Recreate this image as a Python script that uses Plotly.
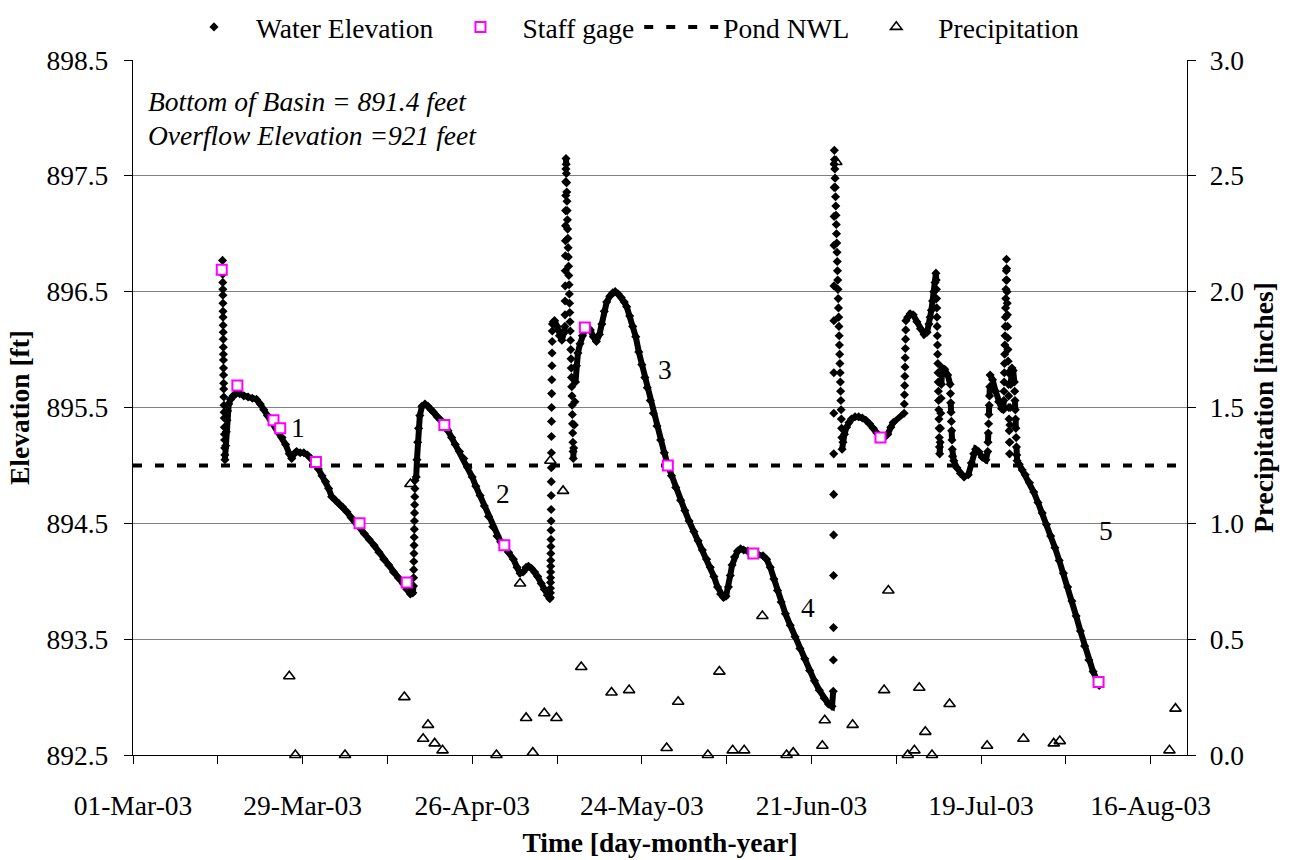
import pandas as pd
import plotly.graph_objects as go

START = pd.Timestamp("2003-03-01")

# Logger record: days after 01-Mar-03 and water surface elevation (ft)
wl_day = [
    14.78, 14.80, 14.81, 14.82, 14.83, 14.84, 14.85, 14.86, 14.87, 14.88, 14.89, 14.90, 14.91, 14.92,
    14.93, 14.94, 14.95, 14.97, 14.98, 15.00, 15.02, 15.04, 15.06, 15.08, 15.10, 15.12, 15.14, 15.16, 15.18,
    15.30, 15.40, 15.50, 15.62, 15.80, 16.10, 16.50, 17.00, 17.60, 18.30, 19.00, 19.70, 20.40, 21.00,
    21.60, 22.20, 22.80, 23.40, 24.00, 24.60, 25.20, 25.80, 26.20, 26.60, 27.00, 27.60, 28.20, 28.80,
    29.40, 30.00, 30.60, 31.20, 31.80, 32.30, 32.80, 33.40, 34.00, 34.60, 35.30, 36.00, 36.70, 37.40,
    38.20, 39.00, 39.80, 40.60, 41.40, 42.20, 43.00, 43.80, 44.60, 45.20, 45.80, 46.20,
    46.30, 46.32, 46.34, 46.36, 46.38, 46.40, 46.42, 46.44, 46.46, 46.48, 46.50, 46.52, 46.54, 46.56,
    46.75, 46.88, 47.00, 47.15, 47.35, 47.70, 48.20, 48.70, 49.20, 49.60, 50.20, 50.80, 51.40, 52.00,
    52.60, 53.20, 53.90, 54.60, 55.30, 56.00, 56.60, 57.30, 58.00, 58.70, 59.40, 60.10, 60.70, 61.30,
    62.00, 62.80, 63.40, 63.90, 64.40, 64.90, 65.30, 65.80, 66.30, 66.80, 67.40, 67.90, 68.40, 68.80,
    68.90, 68.91, 68.92, 68.93, 68.94, 68.95, 68.96, 68.97, 68.98, 68.99, 69.00, 69.01, 69.02, 69.03,
    69.04, 69.05, 69.06, 69.07, 69.08, 69.09, 69.10, 69.12, 69.14, 69.16, 69.18, 69.20, 69.22, 69.25,
    69.40, 69.60, 70.00, 70.40, 70.80, 71.10, 71.30,
    71.32, 71.33, 71.35, 71.36, 71.38, 71.39, 71.41, 71.42, 71.44, 71.45, 71.47, 71.48,
    71.52, 71.55, 71.58, 71.61, 71.64, 71.67, 71.71, 71.75, 71.79, 71.83, 71.87, 71.91, 71.95, 71.99,
    72.03, 72.07, 72.11, 72.15, 72.19, 72.23, 72.27, 72.31, 72.35, 72.39, 72.43, 72.47, 72.50, 72.53,
    72.56, 72.59, 72.62, 72.65, 72.68,
    72.75, 72.85, 72.95, 73.05, 73.20, 73.45, 73.80, 74.20, 74.60, 75.00, 75.50, 76.00, 76.50, 77.00,
    77.40, 77.80, 78.20, 78.70, 79.20, 79.60, 80.10, 80.60, 81.10, 81.50, 82.00, 82.50, 83.00, 83.50,
    84.00, 84.50, 84.90, 85.40, 85.90, 86.50, 87.10, 87.70, 88.30, 88.90, 89.60, 90.40, 91.10, 91.80,
    92.60, 93.30, 94.00, 94.70, 95.30, 95.90, 96.50, 97.00, 97.50, 97.90, 98.30, 98.60, 98.90, 99.30,
    99.80, 100.30, 100.80, 101.50, 102.40, 103.20, 104.00, 104.60, 105.20, 105.80, 106.40, 107.00,
    107.70, 108.50, 109.30, 110.10, 110.90, 111.70, 112.50, 113.30, 114.10, 114.80, 115.40,
    115.60, 115.62, 115.64, 115.65, 115.66, 115.67, 115.68, 115.69, 115.70, 115.71, 115.72, 115.73,
    115.74, 115.75, 115.76, 115.78,
    115.82, 115.86, 115.90, 115.94, 115.98, 116.02, 116.06, 116.10, 116.14, 116.18, 116.22, 116.26,
    116.30, 116.34, 116.38, 116.42, 116.46, 116.50, 116.54, 116.58, 116.62, 116.66, 116.70, 116.74,
    116.78, 116.82, 116.86, 116.90, 116.94, 116.98, 117.02, 117.06,
    117.20, 117.45, 117.80, 118.20, 118.60, 119.20, 119.80, 120.40, 121.00, 121.60, 122.20, 122.80,
    123.40, 124.00, 124.60, 125.10, 125.50,
    127.30, 127.33, 127.36, 127.39, 127.42, 127.45, 127.48, 127.51, 127.54, 127.57, 127.60,
    127.90, 128.30, 128.80, 129.40, 130.00, 130.60, 131.10,
    131.40, 131.60, 131.80, 132.00, 132.20, 132.40, 132.55,
    132.60, 132.63, 132.66, 132.69, 132.72, 132.75, 132.78, 132.81, 132.84, 132.87, 132.90, 132.93,
    132.96, 132.99, 133.02, 133.05, 133.08, 133.11, 133.14, 133.17,
    133.25, 133.30, 133.35, 133.40, 133.45, 133.50, 133.60, 134.00, 134.50, 134.90,
    134.95, 135.00, 135.05, 135.10, 135.15, 135.20, 135.25, 135.30,
    135.50, 136.00, 136.60, 137.20, 137.90, 138.40, 138.80, 139.10, 139.60, 140.20, 140.80,
    141.10, 141.15, 141.20, 141.25, 141.30, 141.35, 141.40, 141.45, 141.50,
    141.90, 142.40, 142.90, 143.40, 143.70,
    143.75, 143.78, 143.81, 143.84, 143.87, 143.90, 143.93, 143.96, 143.99, 144.02, 144.05, 144.08,
    144.11, 144.14, 144.17, 144.20, 144.23, 144.26, 144.29, 144.32, 144.35, 144.38, 144.41, 144.44,
    144.47, 144.50, 144.53, 144.56, 144.59, 144.62, 144.65, 144.68, 144.71, 144.74, 144.77, 144.80,
    144.90, 145.10, 145.30, 145.50,
    145.55, 145.60, 145.65, 145.70, 145.75, 145.80, 145.85, 145.90, 145.95,
    146.30, 146.80, 147.30, 148.00, 148.70, 149.40, 150.10, 150.80, 151.50, 152.20, 152.90, 153.60,
    154.30, 155.00, 155.70, 156.40, 157.10, 157.80, 158.50, 159.20, 159.50,
]
wl_ft = [
    896.77, 896.71, 896.65, 896.58, 896.52, 896.47, 896.40, 896.33, 896.28, 896.21, 896.15, 896.09, 896.02, 895.96,
    895.91, 895.84, 895.78, 895.71, 895.66, 895.59, 895.52, 895.46, 895.41, 895.33, 895.27, 895.22, 895.15, 895.09, 895.05,
    895.17, 895.29, 895.39, 895.47, 895.53, 895.57, 895.60, 895.62, 895.62, 895.60, 895.59, 895.58, 895.57, 895.53,
    895.48, 895.43, 895.39, 895.35, 895.30, 895.24, 895.18, 895.10, 895.06, 895.10, 895.12, 895.11, 895.11, 895.09,
    895.06, 895.02, 894.97, 894.91, 894.86, 894.80, 894.73, 894.70, 894.67, 894.64, 894.60, 894.55, 894.51, 894.47,
    894.41, 894.36, 894.31, 894.25, 894.19, 894.14, 894.08, 894.03, 893.98, 893.93, 893.89, 893.90,
    893.96, 894.03, 894.10, 894.17, 894.24, 894.31, 894.38, 894.45, 894.52, 894.59, 894.66, 894.73, 894.80, 894.87,
    894.90, 895.05, 895.20, 895.32, 895.43, 895.51, 895.53, 895.51, 895.48, 895.46, 895.42, 895.39, 895.36, 895.30,
    895.24, 895.18, 895.12, 895.06, 894.98, 894.90, 894.82, 894.74, 894.65, 894.56, 894.47, 894.39, 894.34, 894.30,
    894.25, 894.19, 894.12, 894.07, 894.08, 894.12, 894.13, 894.11, 894.08, 894.04, 893.98, 893.93, 893.88, 893.85,
    893.86, 893.90, 893.94, 893.99, 894.03, 894.08, 894.13, 894.18, 894.24, 894.30, 894.36, 894.44, 894.52, 894.62,
    894.74, 894.86, 894.98, 895.11, 895.25, 895.38, 895.50, 895.62, 895.74, 895.86, 895.97, 896.07, 896.16, 896.22,
    896.24, 896.25, 896.20, 896.12, 896.08, 896.14, 896.20,
    896.30, 896.42, 896.55, 896.68, 896.81, 896.94, 897.07, 897.20, 897.33, 897.45, 897.56, 897.65,
    897.60, 897.52, 897.44, 897.36, 897.28, 897.20, 897.12, 897.04, 896.96, 896.88, 896.80, 896.72, 896.64, 896.56,
    896.48, 896.40, 896.32, 896.24, 896.16, 896.08, 896.00, 895.92, 895.84, 895.76, 895.68, 895.60, 895.52, 895.44,
    895.36, 895.28, 895.20, 895.12, 895.06,
    895.15, 895.35, 895.55, 895.72, 895.86, 895.97, 896.05, 896.12, 896.17, 896.19, 896.17, 896.11, 896.07, 896.13,
    896.22, 896.33, 896.41, 896.46, 896.49, 896.50, 896.48, 896.45, 896.41, 896.37, 896.29, 896.20, 896.11, 895.98,
    895.87, 895.76, 895.67, 895.56, 895.45, 895.34, 895.22, 895.11, 895.00, 894.91, 894.81, 894.70, 894.61, 894.52,
    894.43, 894.35, 894.27, 894.19, 894.12, 894.04, 893.95, 893.89, 893.86, 893.87, 893.95, 894.05, 894.14, 894.21,
    894.26, 894.28, 894.27, 894.26, 894.24, 894.23, 894.22, 894.19, 894.12, 894.02, 893.92, 893.82,
    893.72, 893.62, 893.52, 893.42, 893.33, 893.23, 893.14, 893.06, 892.99, 892.94, 892.92,
    893.05, 893.32, 893.60, 894.05, 894.40, 894.75, 895.10, 895.45, 895.80, 896.25, 896.55, 896.90,
    897.15, 897.40, 897.60, 897.72,
    897.64, 897.56, 897.48, 897.40, 897.32, 897.24, 897.16, 897.08, 897.00, 896.92, 896.84, 896.76,
    896.68, 896.60, 896.52, 896.44, 896.36, 896.28, 896.20, 896.12, 896.04, 895.96, 895.88, 895.80,
    895.72, 895.64, 895.56, 895.48, 895.40, 895.32, 895.24, 895.14,
    895.20, 895.27, 895.33, 895.37, 895.40, 895.42, 895.42, 895.41, 895.39, 895.36, 895.32, 895.28,
    895.25, 895.24, 895.27, 895.33, 895.37,
    895.45, 895.53, 895.61, 895.69, 895.77, 895.85, 895.93, 896.01, 896.09, 896.17, 896.25,
    896.28, 896.31, 896.30, 896.24, 896.18, 896.13, 896.15,
    896.22, 896.28, 896.34, 896.42, 896.50, 896.58, 896.66,
    896.60, 896.52, 896.44, 896.36, 896.28, 896.20, 896.12, 896.04, 895.96, 895.88, 895.80, 895.72,
    895.64, 895.56, 895.48, 895.40, 895.32, 895.24, 895.16, 895.10,
    895.20, 895.32, 895.45, 895.58, 895.70, 895.78, 895.84, 895.83, 895.78, 895.70,
    895.62, 895.54, 895.46, 895.38, 895.30, 895.22, 895.14, 895.08,
    895.04, 894.98, 894.93, 894.90, 894.92, 895.02, 895.10, 895.14, 895.12, 895.07, 895.05,
    895.12, 895.20, 895.28, 895.36, 895.44, 895.52, 895.60, 895.68, 895.78,
    895.74, 895.64, 895.55, 895.49, 895.48,
    895.56, 895.64, 895.72, 895.80, 895.88, 895.96, 896.04, 896.12, 896.20, 896.28, 896.36, 896.44,
    896.52, 896.60, 896.68, 896.78, 896.70, 896.60, 896.50, 896.40, 896.30, 896.20, 896.10, 896.00,
    895.90, 895.80, 895.70, 895.60, 895.50, 895.40, 895.30, 895.20, 895.10, 895.20, 895.35, 895.50,
    895.70, 895.84, 895.82, 895.72,
    895.64, 895.56, 895.48, 895.40, 895.32, 895.24, 895.16, 895.09, 895.04,
    895.01, 894.96, 894.92, 894.85, 894.77, 894.68, 894.59, 894.49, 894.39, 894.29, 894.18, 894.07,
    893.95, 893.83, 893.70, 893.57, 893.44, 893.32, 893.22, 893.14, 893.10,
]

# Staff gage readings
staff_day = [14.65, 17.23, 23.2, 24.3, 30.2, 37.4, 45.2, 51.4, 61.3, 74.6, 88.3, 102.4, 123.4, 159.4]
staff_ft = [896.69, 895.69, 895.39, 895.32, 895.03, 894.50, 893.99, 895.35, 894.31, 896.19, 895.00,
            894.24, 895.24, 893.13]

# Daily precipitation (inches)
precip_day = [25.8, 26.8, 35.0, 44.8, 45.8, 47.9, 48.7, 49.8, 51.1, 60.0, 63.9, 64.9, 66.0, 67.9,
              68.9, 69.9, 71.0, 74.0, 79.0, 81.9, 88.1, 90.0, 94.9, 96.8, 99.0, 100.9, 103.9, 107.9,
              109.0, 113.8, 114.2, 116.1, 118.8, 124.0, 124.7, 127.9, 129.0, 129.8, 130.8, 131.9,
              134.8, 141.0, 147.0, 152.0, 153.0, 171.1, 172.1]
precip_in = [0.34, 0.00, 0.00, 0.25, 1.17, 0.07, 0.13, 0.05, 0.02, 0.00, 0.74, 0.16, 0.01, 0.18,
             1.27, 0.16, 1.14, 0.38, 0.27, 0.28, 0.03, 0.23, 0.00, 0.36, 0.02, 0.02, 0.60, 0.00,
             0.01, 0.04, 0.15, 2.56, 0.13, 0.28, 0.71, 0.00, 0.02, 0.29, 0.10, 0.00,
             0.22, 0.04, 0.07, 0.05, 0.06, 0.02, 0.20]

POND_NWL = 895.0
X_START, X_END = "2003-03-01", "2003-08-22"

SEGMENT_LABELS = [("1", 27.3, 895.33), ("2", 61.1, 894.76), ("3", 87.8, 895.83),
                  ("4", 111.5, 893.77), ("5", 160.6, 894.44)]

FONT = "Liberation Serif, Times New Roman, serif"
FS = 27.5


def to_date(days):
    return [START + pd.Timedelta(days=d) for d in days]


wl_t = to_date(wl_day)

# Join consecutive readings with a line only where the stage changes gradually;
# rapid storm rises and falls stay as separate hourly markers.
line_x, line_y = [], []
for i in range(len(wl_day)):
    if i > 0:
        dt = wl_day[i] - wl_day[i - 1]
        rate = abs(wl_ft[i] - wl_ft[i - 1]) / dt if dt > 0 else 99
        if rate > 1.6 or dt > 2.5:
            line_x.append(None)
            line_y.append(None)
    line_x.append(wl_t[i])
    line_y.append(wl_ft[i])

fig = go.Figure()

fig.add_trace(go.Scatter(
    x=[X_START, X_END], y=[POND_NWL, POND_NWL], mode="lines", name="Pond NWL",
    line=dict(color="black", width=4, dash="9px,13px"), legendrank=3,
))
fig.add_trace(go.Scatter(
    x=line_x, y=line_y, mode="lines", line=dict(color="black", width=6),
    showlegend=False, hoverinfo="skip", legendgroup="wl",
))
fig.add_trace(go.Scatter(
    x=wl_t, y=wl_ft, mode="markers", name="Water Elevation", legendgroup="wl",
    marker=dict(symbol="diamond", size=7, color="black"), legendrank=1,
))
fig.add_trace(go.Scatter(
    x=to_date(staff_day), y=staff_ft, mode="markers", name="Staff gage",
    marker=dict(symbol="square", size=10, color="white", line=dict(color="#FF00FF", width=2)),
    legendrank=2,
))
fig.add_trace(go.Scatter(
    x=to_date(precip_day), y=precip_in, mode="markers", name="Precipitation", yaxis="y2",
    marker=dict(symbol="triangle-up-open", size=10, color="black", line=dict(width=1.6)),
    legendrank=4, cliponaxis=False,
))

tick_dates = pd.date_range(X_START, "2003-08-16", freq="14D")
tick_text = [d.strftime("%d-%b-%y") if i % 2 == 0 else "" for i, d in enumerate(tick_dates)]

for text, d, y in SEGMENT_LABELS:
    fig.add_annotation(x=START + pd.Timedelta(days=d), y=y, text=text, showarrow=False,
                       font=dict(family=FONT, size=FS, color="black"))

fig.add_annotation(xref="paper", yref="paper", x=0.012, y=0.94, xanchor="left", yanchor="middle",
                   text="<i>Bottom of Basin = 891.4 feet</i>", showarrow=False,
                   font=dict(family=FONT, size=FS, color="black"))
fig.add_annotation(xref="paper", yref="paper", x=0.012, y=0.892, xanchor="left", yanchor="middle",
                   text="<i>Overflow Elevation =921 feet</i>", showarrow=False,
                   font=dict(family=FONT, size=FS, color="black"))

axis_common = dict(showline=True, linecolor="black", linewidth=1.3, ticks="outside", ticklen=8,
                   tickcolor="black", tickwidth=1.3, zeroline=False,
                   tickfont=dict(family=FONT, size=FS, color="black"))

fig.update_layout(
    width=1294, height=860,
    margin=dict(l=133, r=107, t=60, b=105, autoexpand=False),
    paper_bgcolor="white", plot_bgcolor="white",
    font=dict(family=FONT, size=FS, color="black"),
    showlegend=True,
    legend=dict(orientation="h", x=0.037, xref="paper", y=1 - 27 / 860, yref="container",
                xanchor="left", yanchor="middle",
                font=dict(family=FONT, size=FS, color="black"), traceorder="normal",
                itemwidth=74, bgcolor="rgba(0,0,0,0)"),
    xaxis=dict(type="date", range=[X_START, X_END], tickvals=tick_dates, ticktext=tick_text,
               showgrid=False, mirror=False, ticklabelstandoff=18,
               title=dict(text="<b>Time [day-month-year]</b>", font=dict(family=FONT, size=FS),
                          standoff=12),
               **axis_common),
    yaxis=dict(range=[892.5, 898.5], tick0=892.5, dtick=1, tickformat=".1f",
               showgrid=True, gridcolor="#808080", gridwidth=1.3, ticklabelstandoff=10,
               title=dict(text="<b>Elevation [ft]</b>", font=dict(family=FONT, size=FS), standoff=8),
               **axis_common),
    yaxis2=dict(range=[0, 3], tick0=0, dtick=0.5, tickformat=".1f", overlaying="y", side="right",
                showgrid=False, ticklabelstandoff=8,
                title=dict(text="<b>Precipitation [inches]</b>", font=dict(family=FONT, size=FS),
                           standoff=10),
                **axis_common),
)

fig.write_html("out.html")
